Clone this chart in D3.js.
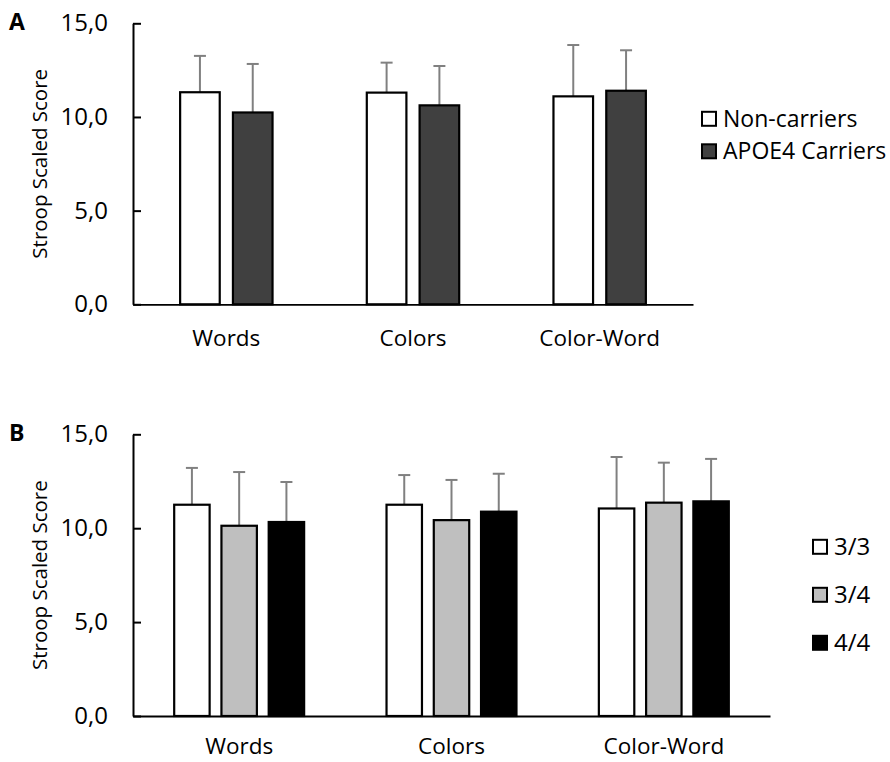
<!DOCTYPE html>
<html>
<head>
<meta charset="utf-8">
<script src="https://cdn.jsdelivr.net/npm/d3@7"></script>
<style>
  body { margin: 0; background: #fff; }
  text { font-family: "Open Sans", sans-serif; fill: #000; }
</style>
</head>
<body>
<svg id="chart" width="890" height="762"></svg>
<script>
// data
var categories = ["Words", "Colors", "Color-Word"];
var yTicks = [0, 5, 10, 15];

var seriesA = ["Non-carriers", "APOE4 Carriers"];
var nonCarriersMean = [11.32, 11.30, 11.10];
var nonCarriersErr  = [1.94, 1.60, 2.74];
var carriersMean    = [10.24, 10.62, 11.40];
var carriersErr     = [2.59, 2.10, 2.16];

var seriesB = ["3/3", "3/4", "4/4"];
var g33Mean = [11.25, 11.25, 11.05];
var g33Err  = [1.96, 1.58, 2.74];
var g34Mean = [10.13, 10.43, 11.36];
var g34Err  = [2.86, 2.14, 2.13];
var g44Mean = [10.33, 10.88, 11.43];
var g44Err  = [2.13, 2.02, 2.26];

var svg = d3.select("#chart");
var fmt = function(d) { return d3.format(".1f")(d).replace(".", ","); };

var drawPanel = function(opt) {
  var y = d3.scaleLinear().domain([0, 15]).range([opt.y0, opt.y1]);

  var x0 = d3.scaleBand()
      .domain(categories)
      .range([opt.left, opt.right])
      .paddingInner(opt.groupPad)
      .paddingOuter(opt.groupPad / 2);

  var x1 = d3.scaleBand()
      .domain(opt.series)
      .range([0, x0.bandwidth()])
      .paddingInner(0.25);

  var color = d3.scaleOrdinal().domain(opt.series).range(opt.colors);

  var rows = [];
  categories.forEach(function(c, i) {
    opt.series.forEach(function(s, j) {
      rows.push({ cat: c, s: s, v: opt.means[j][i], e: opt.errs[j][i] });
    });
  });

  var g = svg.append("g");

  // error bars first so the bar outline sits on top
  var eb = g.selectAll(".err")
      .data(rows)
      .enter()
    .append("g")
      .attr("class", "err")
      .attr("stroke", "#808080")
      .attr("stroke-width", 2);

  eb.append("line")
      .attr("x1", function(d) { return x0(d.cat) + x1(d.s) + x1.bandwidth() / 2; })
      .attr("x2", function(d) { return x0(d.cat) + x1(d.s) + x1.bandwidth() / 2; })
      .attr("y1", function(d) { return y(d.v); })
      .attr("y2", function(d) { return y(d.v + d.e); });

  eb.append("line")
      .attr("x1", function(d) { return x0(d.cat) + x1(d.s) + x1.bandwidth() / 2 - 6; })
      .attr("x2", function(d) { return x0(d.cat) + x1(d.s) + x1.bandwidth() / 2 + 6; })
      .attr("y1", function(d) { return y(d.v + d.e); })
      .attr("y2", function(d) { return y(d.v + d.e); });

  g.selectAll(".bar")
      .data(rows)
      .enter()
    .append("rect")
      .attr("class", "bar")
      .attr("x", function(d) { return x0(d.cat) + x1(d.s); })
      .attr("width", x1.bandwidth())
      .attr("y", function(d) { return y(d.v); })
      .attr("height", function(d) { return y(0) - y(d.v); })
      .attr("fill", function(d) { return color(d.s); })
      .attr("stroke", "#000")
      .attr("stroke-width", 2.2);

  // axes
  var ya = g.append("g")
      .attr("transform", "translate(" + opt.left + ",0)")
      .call(d3.axisLeft(y).tickValues(yTicks).tickFormat(fmt)
        .tickSizeInner(-8).tickSizeOuter(0).tickPadding(25));
  ya.select(".domain").attr("stroke-width", 2);
  ya.selectAll(".tick line").attr("stroke-width", 2);
  ya.selectAll("text").attr("font-size", 24).attr("font-family", "Open Sans");

  var xa = g.append("g")
      .attr("transform", "translate(0," + opt.y0 + ")")
      .call(d3.axisBottom(x0).tickSize(0).tickPadding(opt.catPad));
  xa.select(".domain").attr("stroke-width", 1.8);
  xa.selectAll("text").attr("font-size", 22.5).attr("font-family", "Open Sans");

  g.append("text")
      .attr("transform", "rotate(-90)")
      .attr("x", -(opt.y0 + opt.y1) / 2)
      .attr("y", 47)
      .attr("text-anchor", "middle")
      .attr("font-size", 20.5)
      .text("Stroop Scaled Score");

  g.append("text")
      .attr("x", 9)
      .attr("y", opt.y1 + 7)
      .attr("font-size", 23)
      .attr("font-weight", "bold")
      .text(opt.letter);

  // legend
  var lg = g.selectAll(".leg")
      .data(opt.series)
      .enter()
    .append("g")
      .attr("class", "leg")
      .attr("transform", function(d, i) {
        return "translate(" + opt.legX + "," + (opt.legY + i * opt.legStep) + ")";
      });

  lg.append("rect")
      .attr("x", 0)
      .attr("y", -7)
      .attr("width", 14)
      .attr("height", 14)
      .attr("fill", function(d) { return color(d); })
      .attr("stroke", "#000")
      .attr("stroke-width", 2);

  lg.append("text")
      .attr("x", opt.legTextDx)
      .attr("y", 7.8)
      .attr("font-size", opt.legFont)
      .text(function(d) { return d; });
};

drawPanel({
  letter: "A",
  series: seriesA,
  means: [nonCarriersMean, carriersMean],
  errs: [nonCarriersErr, carriersErr],
  colors: ["#ffffff", "#404040"],
  left: 133, right: 693,
  y0: 304.3, y1: 23.3,
  groupPad: 0.505,
  catPad: 26,
  legX: 702, legY: 118.8, legStep: 32.5, legTextDx: 21, legFont: 23
});

drawPanel({
  letter: "B",
  series: seriesB,
  means: [g33Mean, g34Mean, g44Mean],
  errs: [g33Err, g34Err, g44Err],
  colors: ["#ffffff", "#bfbfbf", "#000000"],
  left: 133, right: 770,
  y0: 716, y1: 434.3,
  groupPad: 0.388,
  catPad: 22.5,
  legX: 813, legY: 546.8, legStep: 48, legTextDx: 21, legFont: 24
});
</script>
</body>
</html>
